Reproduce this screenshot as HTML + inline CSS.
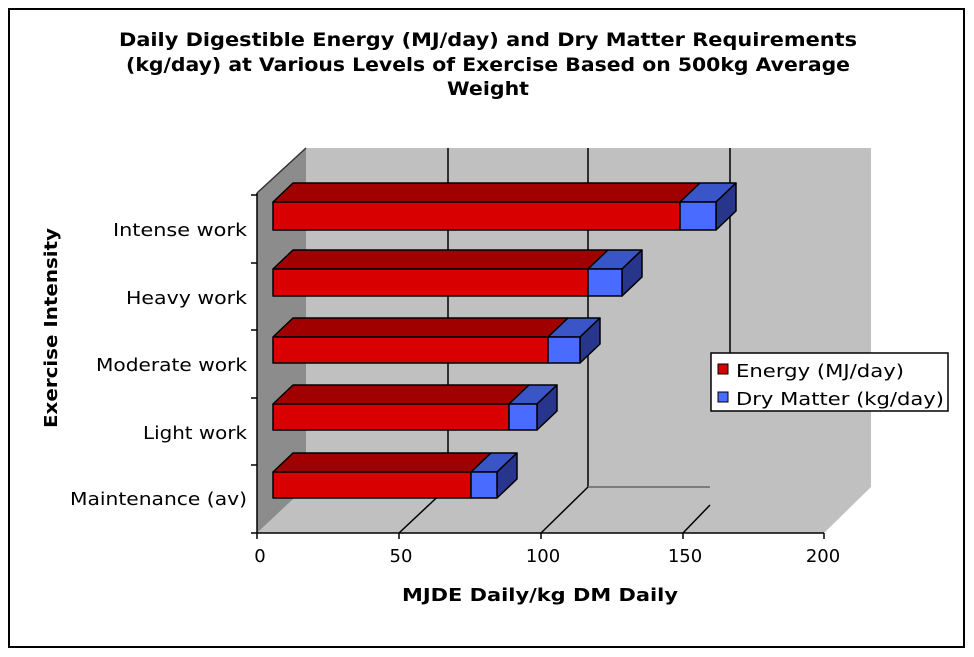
<!DOCTYPE html>
<html><head><meta charset="utf-8"><style>
html,body{margin:0;padding:0;background:#fff}
svg{display:block}
text{font-family:"DejaVu Sans","Liberation Sans",sans-serif;fill:#000}
</style></head><body>
<svg width="974" height="657" viewBox="0 0 974 657" xmlns="http://www.w3.org/2000/svg">
<rect x="9" y="9" width="955" height="638" fill="#fff" stroke="#000" stroke-width="2"/>
<g font-weight="bold" font-size="19" text-anchor="middle">
<text x="488" y="46" textLength="738" lengthAdjust="spacingAndGlyphs">Daily Digestible Energy (MJ/day) and Dry Matter Requirements</text>
<text x="488" y="71" textLength="724" lengthAdjust="spacingAndGlyphs">(kg/day) at Various Levels of Exercise Based on 500kg Average</text>
<text x="488" y="95" textLength="82" lengthAdjust="spacingAndGlyphs">Weight</text>
</g>
<polygon points="306,148 871,148 871,487 306,487" fill="#c0c0c0"/>
<polygon points="306,487 871,487 824,533 257,533" fill="#c0c0c0"/>
<polygon points="257,193 306,148 306,487 257,533" fill="#8c8c8c"/>
<g stroke="#000" stroke-width="1.5" fill="none">
<line x1="448" y1="148" x2="448" y2="487"/>
<line x1="588" y1="148" x2="588" y2="487"/>
<line x1="730" y1="148" x2="730" y2="360"/>
<line x1="448" y1="487" x2="399" y2="533"/>
<line x1="588" y1="487" x2="541" y2="533"/>
<line x1="710" y1="505" x2="683" y2="533"/>
<line x1="588" y1="487" x2="710" y2="487" stroke="#666"/>
<line x1="257" y1="193" x2="306" y2="148" stroke="#333"/>
<line x1="257" y1="193" x2="257" y2="533"/>
<line x1="257" y1="533" x2="824" y2="533"/>
<line x1="251" y1="195" x2="257" y2="195"/><line x1="251" y1="263" x2="257" y2="263"/>
<line x1="251" y1="330" x2="257" y2="330"/><line x1="251" y1="398" x2="257" y2="398"/>
<line x1="251" y1="465" x2="257" y2="465"/><line x1="251" y1="533" x2="257" y2="533"/>
<line x1="257" y1="533" x2="257" y2="539"/><line x1="399" y1="533" x2="399" y2="539"/>
<line x1="541" y1="533" x2="541" y2="539"/><line x1="683" y1="533" x2="683" y2="539"/>
<line x1="824" y1="533" x2="824" y2="539"/>
</g>
<g stroke="#000" stroke-width="1.5" stroke-linejoin="round">
<polygon points="273,202 293,183 700,183 680,202" fill="#a00000"/>
<polygon points="680,202 700,183 736,183 716,202" fill="#3a55c8"/>
<polygon points="716,202 736,183 736,211 716,230" fill="#27358a"/>
<rect x="273" y="202" width="407" height="28" fill="#d80000"/>
<rect x="680" y="202" width="36" height="28" fill="#4a6bff"/>
<polygon points="273,269 293,250 608,250 588,269" fill="#a00000"/>
<polygon points="588,269 608,250 642,250 622,269" fill="#3a55c8"/>
<polygon points="622,269 642,250 642,277 622,296" fill="#27358a"/>
<rect x="273" y="269" width="315" height="27" fill="#d80000"/>
<rect x="588" y="269" width="34" height="27" fill="#4a6bff"/>
<polygon points="273,337 293,318 568,318 548,337" fill="#a00000"/>
<polygon points="548,337 568,318 600,318 580,337" fill="#3a55c8"/>
<polygon points="580,337 600,318 600,344 580,363" fill="#27358a"/>
<rect x="273" y="337" width="275" height="26" fill="#d80000"/>
<rect x="548" y="337" width="32" height="26" fill="#4a6bff"/>
<polygon points="273,404 293,385 529,385 509,404" fill="#a00000"/>
<polygon points="509,404 529,385 557,385 537,404" fill="#3a55c8"/>
<polygon points="537,404 557,385 557,411 537,430" fill="#27358a"/>
<rect x="273" y="404" width="236" height="26" fill="#d80000"/>
<rect x="509" y="404" width="28" height="26" fill="#4a6bff"/>
<polygon points="273,472 293,453 491,453 471,472" fill="#a00000"/>
<polygon points="471,472 491,453 517,453 497,472" fill="#3a55c8"/>
<polygon points="497,472 517,453 517,479 497,498" fill="#27358a"/>
<rect x="273" y="472" width="198" height="26" fill="#d80000"/>
<rect x="471" y="472" width="26" height="26" fill="#4a6bff"/>
</g>
<g font-size="18" text-anchor="end">
<text x="247" y="236" textLength="134" lengthAdjust="spacingAndGlyphs">Intense work</text>
<text x="247" y="304" textLength="121" lengthAdjust="spacingAndGlyphs">Heavy work</text>
<text x="247" y="371" textLength="151" lengthAdjust="spacingAndGlyphs">Moderate work</text>
<text x="247" y="439" textLength="104" lengthAdjust="spacingAndGlyphs">Light work</text>
<text x="247" y="505" textLength="177" lengthAdjust="spacingAndGlyphs">Maintenance (av)</text>
</g>
<g font-size="18" text-anchor="middle">
<text x="260" y="562">0</text><text x="401" y="562">50</text>
<text x="543" y="562">100</text><text x="685" y="562">150</text>
<text x="823" y="562">200</text>
</g>
<text x="540" y="601" font-size="18" font-weight="bold" text-anchor="middle" textLength="276" lengthAdjust="spacingAndGlyphs">MJDE Daily/kg DM Daily</text>
<text transform="translate(57,328) rotate(-90)" font-size="18" font-weight="bold" text-anchor="middle" textLength="200" lengthAdjust="spacingAndGlyphs">Exercise Intensity</text>
<rect x="711" y="353" width="237" height="58" fill="#fff" stroke="#000" stroke-width="1.5"/>
<rect x="718" y="364" width="10" height="10" fill="#d80000" stroke="#000"/>
<rect x="718" y="392" width="10" height="10" fill="#4a6bff" stroke="#000"/>
<g font-size="18"><text x="736" y="377" textLength="168" lengthAdjust="spacingAndGlyphs">Energy (MJ/day)</text><text x="736" y="405" textLength="208" lengthAdjust="spacingAndGlyphs">Dry Matter (kg/day)</text></g>
</svg>
</body></html>
